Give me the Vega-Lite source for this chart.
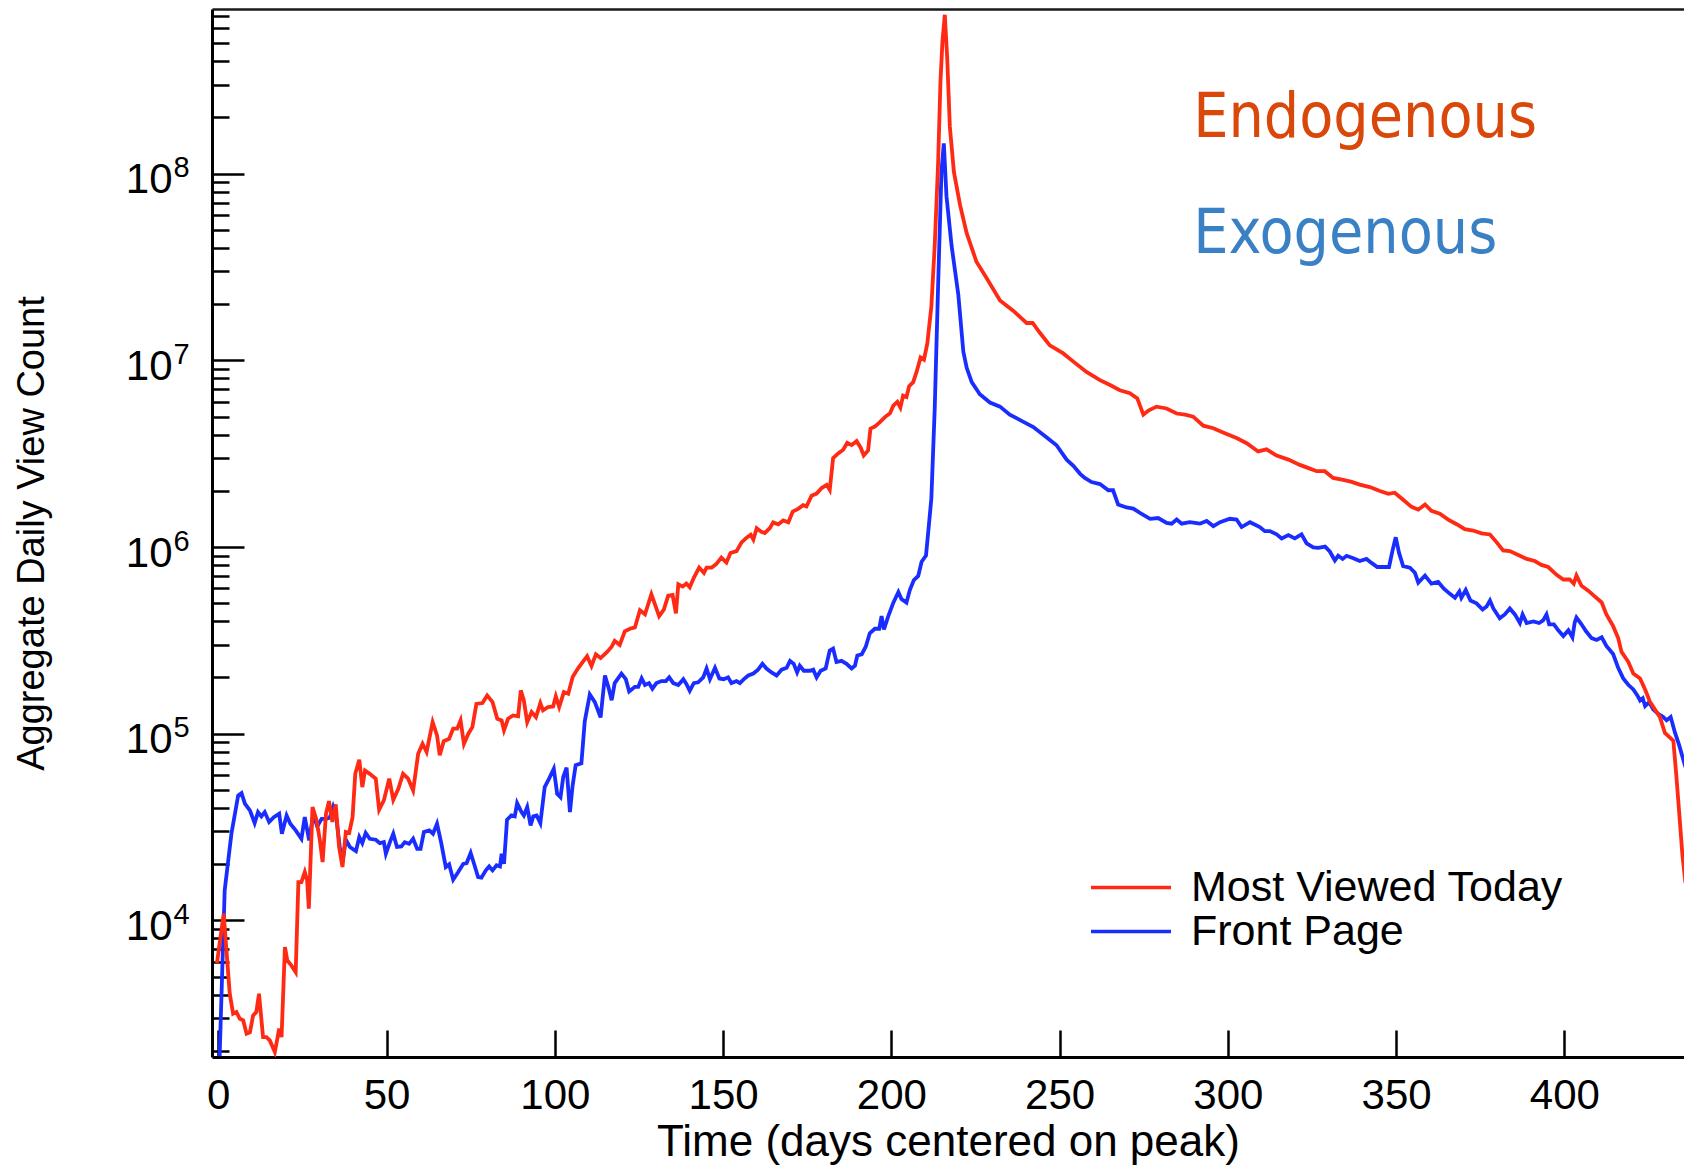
{
  "$schema": "https://vega.github.io/schema/vega-lite/v6.json",
  "width": 1472,
  "height": 1048,
  "autosize": "none",
  "padding": {"left": 212, "top": 9, "right": 0, "bottom": 108},
  "background": "white",
  "config": {
    "font": "Liberation Sans",
    "view": {"stroke": null},
    "axis": {"grid": false, "domainColor": "black", "tickColor": "black", "labelColor": "black", "titleColor": "black", "labelFont": "Liberation Sans", "titleFont": "Liberation Sans", "titleFontWeight": "normal"}
  },
  "datasets": {
    "views": [
      {"series":"Front Page","day":0.4,"views":1870},{"series":"Front Page","day":1.9,"views":14490},{"series":"Front Page","day":3.9,"views":29110},{"series":"Front Page","day":5.9,"views":46670},{"series":"Front Page","day":6.9,"views":48080},{"series":"Front Page","day":7.9,"views":42170},{"series":"Front Page","day":9.4,"views":38820},{"series":"Front Page","day":10.8,"views":33190},{"series":"Front Page","day":11.8,"views":38020},{"series":"Front Page","day":12.8,"views":36060},{"series":"Front Page","day":13.8,"views":38020},{"series":"Front Page","day":15.1,"views":33650},{"series":"Front Page","day":16.5,"views":35730},{"series":"Front Page","day":18.1,"views":37240},{"series":"Front Page","day":18.9,"views":29110},{"series":"Front Page","day":20.3,"views":36480},{"series":"Front Page","day":21.4,"views":32960},{"series":"Front Page","day":23.0,"views":30340},{"series":"Front Page","day":24.7,"views":27350},{"series":"Front Page","day":25.7,"views":35730},{"series":"Front Page","day":27.0,"views":26790},{"series":"Front Page","day":28.2,"views":36980},{"series":"Front Page","day":29.4,"views":31840},{"series":"Front Page","day":30.7,"views":34990},{"series":"Front Page","day":32.0,"views":34990},{"series":"Front Page","day":33.1,"views":35480},{"series":"Front Page","day":34.1,"views":40460},{"series":"Front Page","day":35.1,"views":34990},{"series":"Front Page","day":36.1,"views":24720},{"series":"Front Page","day":36.9,"views":20510},{"series":"Front Page","day":37.9,"views":27040},{"series":"Front Page","day":39.1,"views":24720},{"series":"Front Page","day":40.9,"views":23500},{"series":"Front Page","day":41.9,"views":27930},{"series":"Front Page","day":42.8,"views":25940},{"series":"Front Page","day":43.8,"views":29380},{"series":"Front Page","day":45.0,"views":27350},{"series":"Front Page","day":46.8,"views":27040},{"series":"Front Page","day":48.0,"views":25940},{"series":"Front Page","day":49.2,"views":26240},{"series":"Front Page","day":49.8,"views":22750},{"series":"Front Page","day":51.0,"views":26240},{"series":"Front Page","day":52.0,"views":29110},{"series":"Front Page","day":53.1,"views":24720},{"series":"Front Page","day":54.4,"views":24890},{"series":"Front Page","day":55.4,"views":26240},{"series":"Front Page","day":56.7,"views":25700},{"series":"Front Page","day":57.9,"views":27350},{"series":"Front Page","day":59.1,"views":24150},{"series":"Front Page","day":60.1,"views":24150},{"series":"Front Page","day":61.1,"views":29720},{"series":"Front Page","day":62.7,"views":30340},{"series":"Front Page","day":63.8,"views":29110},{"series":"Front Page","day":65.0,"views":32960},{"series":"Front Page","day":66.3,"views":25700},{"series":"Front Page","day":67.6,"views":19320},{"series":"Front Page","day":68.6,"views":19950},{"series":"Front Page","day":69.8,"views":16520},{"series":"Front Page","day":71.3,"views":18160},{"series":"Front Page","day":72.8,"views":20090},{"series":"Front Page","day":73.8,"views":20280},{"series":"Front Page","day":75.0,"views":22960},{"series":"Front Page","day":76.0,"views":20090},{"series":"Front Page","day":77.2,"views":17060},{"series":"Front Page","day":78.2,"views":16940},{"series":"Front Page","day":79.5,"views":18530},{"series":"Front Page","day":80.5,"views":19450},{"series":"Front Page","day":81.5,"views":18530},{"series":"Front Page","day":82.7,"views":19720},{"series":"Front Page","day":83.7,"views":19450},{"series":"Front Page","day":84.2,"views":22750},{"series":"Front Page","day":84.9,"views":20090},{"series":"Front Page","day":85.8,"views":34590},{"series":"Front Page","day":87.1,"views":36480},{"series":"Front Page","day":88.1,"views":36060},{"series":"Front Page","day":88.8,"views":42460},{"series":"Front Page","day":90.1,"views":38020},{"series":"Front Page","day":90.8,"views":36480},{"series":"Front Page","day":91.8,"views":40460},{"series":"Front Page","day":92.8,"views":32280},{"series":"Front Page","day":93.6,"views":36060},{"series":"Front Page","day":94.6,"views":36480},{"series":"Front Page","day":95.7,"views":33190},{"series":"Front Page","day":97.0,"views":51760},{"series":"Front Page","day":98.3,"views":57410},{"series":"Front Page","day":99.7,"views":64860},{"series":"Front Page","day":100.7,"views":47640},{"series":"Front Page","day":101.7,"views":45710},{"series":"Front Page","day":102.5,"views":58610},{"series":"Front Page","day":103.5,"views":65770},{"series":"Front Page","day":104.5,"views":38020},{"series":"Front Page","day":105.3,"views":52840},{"series":"Front Page","day":106.2,"views":67760},{"series":"Front Page","day":107.9,"views":69340},{"series":"Front Page","day":108.9,"views":116400},{"series":"Front Page","day":110.4,"views":162200},{"series":"Front Page","day":111.9,"views":147600},{"series":"Front Page","day":113.6,"views":122200},{"series":"Front Page","day":114.9,"views":205100},{"series":"Front Page","day":115.9,"views":178200},{"series":"Front Page","day":116.9,"views":151000},{"series":"Front Page","day":117.8,"views":186600},{"series":"Front Page","day":119.8,"views":209900},{"series":"Front Page","day":121.1,"views":195900},{"series":"Front Page","day":122.1,"views":168300},{"series":"Front Page","day":123.8,"views":178200},{"series":"Front Page","day":124.8,"views":178200},{"series":"Front Page","day":125.8,"views":197700},{"series":"Front Page","day":126.8,"views":182400},{"series":"Front Page","day":128.0,"views":186600},{"series":"Front Page","day":129.0,"views":174200},{"series":"Front Page","day":130.2,"views":186600},{"series":"Front Page","day":131.7,"views":191400},{"series":"Front Page","day":133.0,"views":191400},{"series":"Front Page","day":134.0,"views":200400},{"series":"Front Page","day":135.2,"views":186600},{"series":"Front Page","day":136.7,"views":182400},{"series":"Front Page","day":138.2,"views":195900},{"series":"Front Page","day":139.1,"views":184900},{"series":"Front Page","day":140.1,"views":169800},{"series":"Front Page","day":141.3,"views":186600},{"series":"Front Page","day":142.6,"views":188400},{"series":"Front Page","day":144.1,"views":200400},{"series":"Front Page","day":145.1,"views":223400},{"series":"Front Page","day":146.1,"views":195900},{"series":"Front Page","day":147.6,"views":225400},{"series":"Front Page","day":148.9,"views":197700},{"series":"Front Page","day":150.2,"views":195900},{"series":"Front Page","day":151.5,"views":200400},{"series":"Front Page","day":152.5,"views":186600},{"series":"Front Page","day":154.0,"views":191400},{"series":"Front Page","day":155.0,"views":186600},{"series":"Front Page","day":156.2,"views":195900},{"series":"Front Page","day":157.5,"views":205100},{"series":"Front Page","day":159.0,"views":209900},{"series":"Front Page","day":160.4,"views":220300},{"series":"Front Page","day":161.7,"views":236600},{"series":"Front Page","day":162.9,"views":223400},{"series":"Front Page","day":164.4,"views":212800},{"series":"Front Page","day":165.9,"views":205100},{"series":"Front Page","day":167.4,"views":220300},{"series":"Front Page","day":168.9,"views":225400},{"series":"Front Page","day":169.9,"views":245500},{"series":"Front Page","day":171.0,"views":236600},{"series":"Front Page","day":172.0,"views":212800},{"series":"Front Page","day":172.8,"views":231200},{"series":"Front Page","day":174.0,"views":217300},{"series":"Front Page","day":175.8,"views":217300},{"series":"Front Page","day":176.8,"views":220300},{"series":"Front Page","day":177.8,"views":200400},{"series":"Front Page","day":179.0,"views":217300},{"series":"Front Page","day":180.5,"views":223400},{"series":"Front Page","day":181.7,"views":279300},{"series":"Front Page","day":182.7,"views":285800},{"series":"Front Page","day":183.7,"views":242100},{"series":"Front Page","day":185.2,"views":245500},{"series":"Front Page","day":186.7,"views":236600},{"series":"Front Page","day":188.2,"views":223400},{"series":"Front Page","day":189.2,"views":231200},{"series":"Front Page","day":189.9,"views":262400},{"series":"Front Page","day":191.2,"views":266100},{"series":"Front Page","day":192.4,"views":292400},{"series":"Front Page","day":193.6,"views":345100},{"series":"Front Page","day":195.1,"views":364800},{"series":"Front Page","day":196.4,"views":364800},{"series":"Front Page","day":197.1,"views":426600},{"series":"Front Page","day":197.8,"views":361400},{"series":"Front Page","day":199.1,"views":426600},{"series":"Front Page","day":200.6,"views":503500},{"series":"Front Page","day":202.1,"views":574100},{"series":"Front Page","day":203.0,"views":527200},{"series":"Front Page","day":204.5,"views":503500},{"series":"Front Page","day":205.5,"views":587500},{"series":"Front Page","day":206.7,"views":665300},{"series":"Front Page","day":208.0,"views":699800},{"series":"Front Page","day":209.0,"views":833700},{"series":"Front Page","day":210.3,"views":899500},{"series":"Front Page","day":211.0,"views":1219000},{"series":"Front Page","day":211.9,"views":1820000},{"series":"Front Page","day":212.9,"views":5508000},{"series":"Front Page","day":213.9,"views":24950000},{"series":"Front Page","day":214.9,"views":102100000},{"series":"Front Page","day":215.6,"views":145200000},{"series":"Front Page","day":216.4,"views":75510000},{"series":"Front Page","day":217.9,"views":41300000},{"series":"Front Page","day":219.9,"views":22540000},{"series":"Front Page","day":221.4,"views":11140000},{"series":"Front Page","day":222.4,"views":9120000},{"series":"Front Page","day":223.9,"views":7638000},{"series":"Front Page","day":226.3,"views":6577000},{"series":"Front Page","day":229.3,"views":5943000},{"series":"Front Page","day":232.3,"views":5649000},{"series":"Front Page","day":235.2,"views":5117000},{"series":"Front Page","day":238.7,"views":4742000},{"series":"Front Page","day":242.2,"views":4395000},{"series":"Front Page","day":246.1,"views":3873000},{"series":"Front Page","day":249.1,"views":3508000},{"series":"Front Page","day":252.1,"views":2938000},{"series":"Front Page","day":254.1,"views":2723000},{"series":"Front Page","day":256.1,"views":2466000},{"series":"Front Page","day":257.5,"views":2344000},{"series":"Front Page","day":259.5,"views":2228000},{"series":"Front Page","day":262.0,"views":2173000},{"series":"Front Page","day":264.5,"views":2014000},{"series":"Front Page","day":265.9,"views":2014000},{"series":"Front Page","day":267.4,"views":1690000},{"series":"Front Page","day":269.9,"views":1629000},{"series":"Front Page","day":271.9,"views":1607000},{"series":"Front Page","day":274.4,"views":1503000},{"series":"Front Page","day":276.9,"views":1416000},{"series":"Front Page","day":279.3,"views":1429000},{"series":"Front Page","day":281.8,"views":1346000},{"series":"Front Page","day":283.3,"views":1334000},{"series":"Front Page","day":284.8,"views":1403000},{"series":"Front Page","day":286.3,"views":1334000},{"series":"Front Page","day":288.7,"views":1358000},{"series":"Front Page","day":291.7,"views":1334000},{"series":"Front Page","day":293.7,"views":1380000},{"series":"Front Page","day":295.7,"views":1294000},{"series":"Front Page","day":297.7,"views":1358000},{"series":"Front Page","day":300.6,"views":1416000},{"series":"Front Page","day":302.6,"views":1403000},{"series":"Front Page","day":304.1,"views":1279000},{"series":"Front Page","day":306.6,"views":1358000},{"series":"Front Page","day":309.5,"views":1279000},{"series":"Front Page","day":311.0,"views":1216000},{"series":"Front Page","day":312.5,"views":1216000},{"series":"Front Page","day":314.5,"views":1169000},{"series":"Front Page","day":316.0,"views":1112000},{"series":"Front Page","day":318.0,"views":1159000},{"series":"Front Page","day":319.9,"views":1112000},{"series":"Front Page","day":321.9,"views":1169000},{"series":"Front Page","day":323.4,"views":1047000},{"series":"Front Page","day":325.4,"views":995400},{"series":"Front Page","day":326.9,"views":988600},{"series":"Front Page","day":328.9,"views":1005000},{"series":"Front Page","day":330.3,"views":946200},{"series":"Front Page","day":331.8,"views":847200},{"series":"Front Page","day":332.8,"views":897500},{"series":"Front Page","day":334.1,"views":863000},{"series":"Front Page","day":335.3,"views":897500},{"series":"Front Page","day":337.3,"views":871000},{"series":"Front Page","day":339.2,"views":841400},{"series":"Front Page","day":341.2,"views":863000},{"series":"Front Page","day":342.7,"views":822200},{"series":"Front Page","day":344.4,"views":781600},{"series":"Front Page","day":346.2,"views":781600},{"series":"Front Page","day":347.9,"views":781600},{"series":"Front Page","day":348.9,"views":950600},{"series":"Front Page","day":349.9,"views":1127000},{"series":"Front Page","day":350.9,"views":926800},{"series":"Front Page","day":352.1,"views":790700},{"series":"Front Page","day":354.1,"views":774500},{"series":"Front Page","day":355.6,"views":727800},{"series":"Front Page","day":356.6,"views":644200},{"series":"Front Page","day":358.6,"views":703100},{"series":"Front Page","day":360.5,"views":636800},{"series":"Front Page","day":362.5,"views":650100},{"series":"Front Page","day":364.2,"views":598400},{"series":"Front Page","day":366.0,"views":561000},{"series":"Front Page","day":367.5,"views":534600},{"series":"Front Page","day":368.8,"views":578100},{"series":"Front Page","day":369.4,"views":534600},{"series":"Front Page","day":370.7,"views":588800},{"series":"Front Page","day":372.1,"views":516400},{"series":"Front Page","day":373.9,"views":498900},{"series":"Front Page","day":375.7,"views":462400},{"series":"Front Page","day":376.9,"views":480800},{"series":"Front Page","day":377.9,"views":516400},{"series":"Front Page","day":378.9,"views":468800},{"series":"Front Page","day":380.8,"views":415000},{"series":"Front Page","day":382.3,"views":435500},{"series":"Front Page","day":383.8,"views":468800},{"series":"Front Page","day":385.3,"views":435500},{"series":"Front Page","day":386.8,"views":391700},{"series":"Front Page","day":387.6,"views":435500},{"series":"Front Page","day":388.8,"views":391700},{"series":"Front Page","day":390.8,"views":399000},{"series":"Front Page","day":392.5,"views":391700},{"series":"Front Page","day":393.7,"views":404600},{"series":"Front Page","day":394.7,"views":435500},{"series":"Front Page","day":395.5,"views":385500},{"series":"Front Page","day":396.9,"views":385500},{"series":"Front Page","day":398.2,"views":358100},{"series":"Front Page","day":399.7,"views":333400},{"series":"Front Page","day":401.2,"views":358100},{"series":"Front Page","day":402.4,"views":328100},{"series":"Front Page","day":403.1,"views":395400},{"series":"Front Page","day":403.6,"views":418800},{"series":"Front Page","day":405.1,"views":385500},{"series":"Front Page","day":406.4,"views":354800},{"series":"Front Page","day":408.1,"views":325100},{"series":"Front Page","day":409.6,"views":317700},{"series":"Front Page","day":411.1,"views":328100},{"series":"Front Page","day":412.5,"views":295100},{"series":"Front Page","day":414.5,"views":267300},{"series":"Front Page","day":416.0,"views":225400},{"series":"Front Page","day":417.5,"views":197700},{"series":"Front Page","day":419.0,"views":182800},{"series":"Front Page","day":420.5,"views":172600},{"series":"Front Page","day":421.7,"views":160300},{"series":"Front Page","day":422.5,"views":150700},{"series":"Front Page","day":423.3,"views":154900},{"series":"Front Page","day":424.0,"views":140600},{"series":"Front Page","day":425.2,"views":147600},{"series":"Front Page","day":426.4,"views":135200},{"series":"Front Page","day":427.9,"views":127600},{"series":"Front Page","day":429.4,"views":122700},{"series":"Front Page","day":430.4,"views":118000},{"series":"Front Page","day":431.6,"views":122700},{"series":"Front Page","day":432.9,"views":100900},{"series":"Front Page","day":434.1,"views":87100},{"series":"Front Page","day":435.1,"views":75340},{"series":"Front Page","day":436.0,"views":66070},
      {"series":"Most Viewed Today","day":-0.4,"views":5890},{"series":"Most Viewed Today","day":1.6,"views":10860},{"series":"Most Viewed Today","day":3.4,"views":4050},{"series":"Most Viewed Today","day":4.4,"views":3162},{"series":"Most Viewed Today","day":5.4,"views":3228},{"series":"Most Viewed Today","day":6.4,"views":2972},{"series":"Most Viewed Today","day":7.4,"views":2911},{"series":"Most Viewed Today","day":8.4,"views":2472},{"series":"Most Viewed Today","day":9.4,"views":2512},{"series":"Most Viewed Today","day":10.35,"views":3097},{"series":"Most Viewed Today","day":11.3,"views":3228},{"series":"Most Viewed Today","day":12.1,"views":4046},{"series":"Most Viewed Today","day":13.3,"views":2371},{"series":"Most Viewed Today","day":14.3,"views":2371},{"series":"Most Viewed Today","day":15.3,"views":2275},{"series":"Most Viewed Today","day":16.8,"views":1972},{"series":"Most Viewed Today","day":18.1,"views":2630},{"series":"Most Viewed Today","day":18.8,"views":2371},{"series":"Most Viewed Today","day":19.8,"views":7194},{"series":"Most Viewed Today","day":20.5,"views":6109},{"series":"Most Viewed Today","day":21.7,"views":5741},{"series":"Most Viewed Today","day":23.0,"views":5284},{"series":"Most Viewed Today","day":23.8,"views":16030},{"series":"Most Viewed Today","day":24.7,"views":16030},{"series":"Most Viewed Today","day":25.7,"views":18160},{"series":"Most Viewed Today","day":26.4,"views":16370},{"series":"Most Viewed Today","day":26.9,"views":11560},{"series":"Most Viewed Today","day":28.0,"views":40460},{"series":"Most Viewed Today","day":29.2,"views":34360},{"series":"Most Viewed Today","day":30.2,"views":26790},{"series":"Most Viewed Today","day":31.0,"views":20510},{"series":"Most Viewed Today","day":32.0,"views":37240},{"series":"Most Viewed Today","day":32.9,"views":43550},{"series":"Most Viewed Today","day":33.9,"views":33650},{"series":"Most Viewed Today","day":34.9,"views":41780},{"series":"Most Viewed Today","day":35.9,"views":24720},{"series":"Most Viewed Today","day":36.9,"views":19320},{"series":"Most Viewed Today","day":37.9,"views":29720},{"series":"Most Viewed Today","day":38.9,"views":29380},{"series":"Most Viewed Today","day":39.9,"views":35730},{"series":"Most Viewed Today","day":40.7,"views":60950},{"series":"Most Viewed Today","day":41.9,"views":72440},{"series":"Most Viewed Today","day":42.8,"views":51760},{"series":"Most Viewed Today","day":43.6,"views":63530},{"series":"Most Viewed Today","day":45.0,"views":60950},{"series":"Most Viewed Today","day":46.8,"views":57410},{"series":"Most Viewed Today","day":47.8,"views":39170},{"series":"Most Viewed Today","day":49.2,"views":43950},{"series":"Most Viewed Today","day":50.8,"views":57410},{"series":"Most Viewed Today","day":52.0,"views":44260},{"series":"Most Viewed Today","day":53.5,"views":50700},{"series":"Most Viewed Today","day":54.9,"views":60950},{"series":"Most Viewed Today","day":56.4,"views":57410},{"series":"Most Viewed Today","day":57.9,"views":49660},{"series":"Most Viewed Today","day":59.4,"views":77980},{"series":"Most Viewed Today","day":60.7,"views":88310},{"series":"Most Viewed Today","day":61.9,"views":79800},{"series":"Most Viewed Today","day":63.7,"views":115300},{"series":"Most Viewed Today","day":65.0,"views":97950},{"series":"Most Viewed Today","day":65.8,"views":76560},{"series":"Most Viewed Today","day":67.0,"views":91200},{"series":"Most Viewed Today","day":68.6,"views":93970},{"series":"Most Viewed Today","day":69.8,"views":106400},{"series":"Most Viewed Today","day":71.0,"views":106400},{"series":"Most Viewed Today","day":72.0,"views":117800},{"series":"Most Viewed Today","day":73.0,"views":88310},{"series":"Most Viewed Today","day":74.3,"views":100000},{"series":"Most Viewed Today","day":75.5,"views":108400},{"series":"Most Viewed Today","day":76.7,"views":144500},{"series":"Most Viewed Today","day":78.5,"views":145900},{"series":"Most Viewed Today","day":79.9,"views":160300},{"series":"Most Viewed Today","day":81.5,"views":147600},{"series":"Most Viewed Today","day":82.9,"views":120200},{"series":"Most Viewed Today","day":84.2,"views":117800},{"series":"Most Viewed Today","day":84.9,"views":104200},{"series":"Most Viewed Today","day":86.1,"views":120200},{"series":"Most Viewed Today","day":87.6,"views":125300},{"series":"Most Viewed Today","day":89.1,"views":123900},{"series":"Most Viewed Today","day":89.9,"views":170600},{"series":"Most Viewed Today","day":90.8,"views":150700},{"series":"Most Viewed Today","day":91.8,"views":115300},{"series":"Most Viewed Today","day":93.1,"views":130600},{"series":"Most Viewed Today","day":94.4,"views":122700},{"series":"Most Viewed Today","day":95.7,"views":145900},{"series":"Most Viewed Today","day":96.5,"views":133400},{"series":"Most Viewed Today","day":98.0,"views":139000},{"series":"Most Viewed Today","day":99.5,"views":140000},{"series":"Most Viewed Today","day":100.3,"views":158500},{"series":"Most Viewed Today","day":101.3,"views":139000},{"series":"Most Viewed Today","day":102.7,"views":167100},{"series":"Most Viewed Today","day":104.0,"views":163700},{"series":"Most Viewed Today","day":105.3,"views":200900},{"series":"Most Viewed Today","day":107.0,"views":225400},{"series":"Most Viewed Today","day":109.6,"views":260000},{"series":"Most Viewed Today","day":110.9,"views":230700},{"series":"Most Viewed Today","day":112.2,"views":266100},{"series":"Most Viewed Today","day":113.6,"views":254100},{"series":"Most Viewed Today","day":115.4,"views":272300},{"series":"Most Viewed Today","day":116.9,"views":292400},{"series":"Most Viewed Today","day":117.8,"views":314100},{"series":"Most Viewed Today","day":119.3,"views":299200},{"series":"Most Viewed Today","day":120.8,"views":353200},{"series":"Most Viewed Today","day":122.3,"views":364800},{"series":"Most Viewed Today","day":123.8,"views":370700},{"series":"Most Viewed Today","day":125.3,"views":458100},{"series":"Most Viewed Today","day":126.8,"views":436500},{"series":"Most Viewed Today","day":128.7,"views":558500},{"series":"Most Viewed Today","day":130.0,"views":479700},{"series":"Most Viewed Today","day":131.0,"views":426600},{"series":"Most Viewed Today","day":132.4,"views":462400},{"series":"Most Viewed Today","day":133.7,"views":548300},{"series":"Most Viewed Today","day":135.0,"views":553400},{"series":"Most Viewed Today","day":136.0,"views":440600},{"series":"Most Viewed Today","day":136.7,"views":631000},{"series":"Most Viewed Today","day":138.0,"views":613800},{"series":"Most Viewed Today","day":139.1,"views":636800},{"series":"Most Viewed Today","day":140.1,"views":608100},{"series":"Most Viewed Today","day":141.3,"views":683900},{"series":"Most Viewed Today","day":142.9,"views":776200},{"series":"Most Viewed Today","day":144.3,"views":726100},{"series":"Most Viewed Today","day":145.1,"views":776200},{"series":"Most Viewed Today","day":146.6,"views":776200},{"series":"Most Viewed Today","day":147.9,"views":807200},{"series":"Most Viewed Today","day":149.5,"views":877000},{"series":"Most Viewed Today","day":151.0,"views":826000},{"series":"Most Viewed Today","day":152.2,"views":929000},{"series":"Most Viewed Today","day":154.0,"views":950600},{"series":"Most Viewed Today","day":155.5,"views":1059000},{"series":"Most Viewed Today","day":157.0,"views":1122000},{"series":"Most Viewed Today","day":158.2,"views":1164000},{"series":"Most Viewed Today","day":159.0,"views":1096000},{"series":"Most Viewed Today","day":160.0,"views":1262000},{"series":"Most Viewed Today","day":161.4,"views":1205000},{"series":"Most Viewed Today","day":162.4,"views":1189000},{"series":"Most Viewed Today","day":163.9,"views":1262000},{"series":"Most Viewed Today","day":164.9,"views":1355000},{"series":"Most Viewed Today","day":166.4,"views":1324000},{"series":"Most Viewed Today","day":167.9,"views":1387000},{"series":"Most Viewed Today","day":169.4,"views":1355000},{"series":"Most Viewed Today","day":170.7,"views":1549000},{"series":"Most Viewed Today","day":172.3,"views":1600000},{"series":"Most Viewed Today","day":173.8,"views":1675000},{"series":"Most Viewed Today","day":174.8,"views":1652000},{"series":"Most Viewed Today","day":176.3,"views":1884000},{"series":"Most Viewed Today","day":177.8,"views":1932000},{"series":"Most Viewed Today","day":179.3,"views":2070000},{"series":"Most Viewed Today","day":180.8,"views":2153000},{"series":"Most Viewed Today","day":181.7,"views":2023000},{"series":"Most Viewed Today","day":182.7,"views":2992000},{"series":"Most Viewed Today","day":184.2,"views":3170000},{"series":"Most Viewed Today","day":185.7,"views":3319000},{"series":"Most Viewed Today","day":186.9,"views":3614000},{"series":"Most Viewed Today","day":188.2,"views":3516000},{"series":"Most Viewed Today","day":189.7,"views":3690000},{"series":"Most Viewed Today","day":190.9,"views":3404000},{"series":"Most Viewed Today","day":191.8,"views":3097000},{"series":"Most Viewed Today","day":193.1,"views":3289000},{"series":"Most Viewed Today","day":193.8,"views":4305000},{"series":"Most Viewed Today","day":195.1,"views":4416000},{"series":"Most Viewed Today","day":196.6,"views":4667000},{"series":"Most Viewed Today","day":198.1,"views":4966000},{"series":"Most Viewed Today","day":199.6,"views":5200000},{"series":"Most Viewed Today","day":200.6,"views":5715000},{"series":"Most Viewed Today","day":201.8,"views":5998000},{"series":"Most Viewed Today","day":202.7,"views":5585000},{"series":"Most Viewed Today","day":203.5,"views":6471000},{"series":"Most Viewed Today","day":204.5,"views":6368000},{"series":"Most Viewed Today","day":205.3,"views":7261000},{"series":"Most Viewed Today","day":206.5,"views":7638000},{"series":"Most Viewed Today","day":207.5,"views":8670000},{"series":"Most Viewed Today","day":208.7,"views":10350000},{"series":"Most Viewed Today","day":209.7,"views":10090000},{"series":"Most Viewed Today","day":210.7,"views":12330000},{"series":"Most Viewed Today","day":211.9,"views":19410000},{"series":"Most Viewed Today","day":212.9,"views":41300000},{"series":"Most Viewed Today","day":213.9,"views":113000000},{"series":"Most Viewed Today","day":214.6,"views":309000000},{"series":"Most Viewed Today","day":215.2,"views":512000000},{"series":"Most Viewed Today","day":215.9,"views":710000000},{"series":"Most Viewed Today","day":216.6,"views":419000000},{"series":"Most Viewed Today","day":217.4,"views":178000000},{"series":"Most Viewed Today","day":218.6,"views":102100000},{"series":"Most Viewed Today","day":220.4,"views":68230000},{"series":"Most Viewed Today","day":222.4,"views":47970000},{"series":"Most Viewed Today","day":225.3,"views":33730000},{"series":"Most Viewed Today","day":228.3,"views":27610000},{"series":"Most Viewed Today","day":232.3,"views":20940000},{"series":"Most Viewed Today","day":236.2,"views":18450000},{"series":"Most Viewed Today","day":240.2,"views":15850000},{"series":"Most Viewed Today","day":242.0,"views":15850000},{"series":"Most Viewed Today","day":244.2,"views":14000000},{"series":"Most Viewed Today","day":247.1,"views":12020000},{"series":"Most Viewed Today","day":251.1,"views":10890000},{"series":"Most Viewed Today","day":254.1,"views":9840000},{"series":"Most Viewed Today","day":258.0,"views":8670000},{"series":"Most Viewed Today","day":262.0,"views":7834000},{"series":"Most Viewed Today","day":265.0,"views":7379000},{"series":"Most Viewed Today","day":267.9,"views":6918000},{"series":"Most Viewed Today","day":270.9,"views":6668000},{"series":"Most Viewed Today","day":273.1,"views":6252000},{"series":"Most Viewed Today","day":274.9,"views":5117000},{"series":"Most Viewed Today","day":276.4,"views":5383000},{"series":"Most Viewed Today","day":278.8,"views":5649000},{"series":"Most Viewed Today","day":281.8,"views":5521000},{"series":"Most Viewed Today","day":284.8,"views":5188000},{"series":"Most Viewed Today","day":287.3,"views":5117000},{"series":"Most Viewed Today","day":289.7,"views":4989000},{"series":"Most Viewed Today","day":292.7,"views":4467000},{"series":"Most Viewed Today","day":295.7,"views":4325000},{"series":"Most Viewed Today","day":299.1,"views":4074000},{"series":"Most Viewed Today","day":302.6,"views":3837000},{"series":"Most Viewed Today","day":305.6,"views":3597000},{"series":"Most Viewed Today","day":309.0,"views":3251000},{"series":"Most Viewed Today","day":311.5,"views":3334000},{"series":"Most Viewed Today","day":314.5,"views":3090000},{"series":"Most Viewed Today","day":318.0,"views":2938000},{"series":"Most Viewed Today","day":321.4,"views":2754000},{"series":"Most Viewed Today","day":324.4,"views":2630000},{"series":"Most Viewed Today","day":326.4,"views":2547000},{"series":"Most Viewed Today","day":328.8,"views":2547000},{"series":"Most Viewed Today","day":331.3,"views":2344000},{"series":"Most Viewed Today","day":334.3,"views":2286000},{"series":"Most Viewed Today","day":336.8,"views":2234000},{"series":"Most Viewed Today","day":339.2,"views":2158000},{"series":"Most Viewed Today","day":342.2,"views":2094000},{"series":"Most Viewed Today","day":345.2,"views":1995000},{"series":"Most Viewed Today","day":347.7,"views":1928000},{"series":"Most Viewed Today","day":349.6,"views":1954000},{"series":"Most Viewed Today","day":352.1,"views":1791000},{"series":"Most Viewed Today","day":354.6,"views":1641000},{"series":"Most Viewed Today","day":356.6,"views":1585000},{"series":"Most Viewed Today","day":358.6,"views":1690000},{"series":"Most Viewed Today","day":360.5,"views":1563000},{"series":"Most Viewed Today","day":363.0,"views":1510000},{"series":"Most Viewed Today","day":365.5,"views":1403000},{"series":"Most Viewed Today","day":368.0,"views":1324000},{"series":"Most Viewed Today","day":370.4,"views":1245000},{"series":"Most Viewed Today","day":372.9,"views":1225000},{"series":"Most Viewed Today","day":375.4,"views":1183000},{"series":"Most Viewed Today","day":377.9,"views":1167000},{"series":"Most Viewed Today","day":379.9,"views":1059000},{"series":"Most Viewed Today","day":381.8,"views":959400},{"series":"Most Viewed Today","day":383.8,"views":950600},{"series":"Most Viewed Today","day":386.3,"views":905700},{"series":"Most Viewed Today","day":388.8,"views":863000},{"series":"Most Viewed Today","day":391.2,"views":841400},{"series":"Most Viewed Today","day":393.2,"views":801700},{"series":"Most Viewed Today","day":395.2,"views":781600},{"series":"Most Viewed Today","day":397.7,"views":709600},{"series":"Most Viewed Today","day":399.7,"views":669900},{"series":"Most Viewed Today","day":401.6,"views":669900},{"series":"Most Viewed Today","day":402.8,"views":636800},{"series":"Most Viewed Today","day":403.6,"views":703100},{"series":"Most Viewed Today","day":405.1,"views":619400},{"series":"Most Viewed Today","day":407.1,"views":583400},{"series":"Most Viewed Today","day":409.1,"views":542000},{"series":"Most Viewed Today","day":411.1,"views":504700},{"series":"Most Viewed Today","day":412.5,"views":435500},{"series":"Most Viewed Today","day":414.5,"views":376700},{"series":"Most Viewed Today","day":416.0,"views":325100},{"series":"Most Viewed Today","day":417.0,"views":274200},{"series":"Most Viewed Today","day":419.0,"views":242700},{"series":"Most Viewed Today","day":420.5,"views":209900},{"series":"Most Viewed Today","day":422.5,"views":197700},{"series":"Most Viewed Today","day":424.0,"views":172600},{"series":"Most Viewed Today","day":425.4,"views":148900},{"series":"Most Viewed Today","day":426.9,"views":135200},{"series":"Most Viewed Today","day":428.4,"views":122700},{"series":"Most Viewed Today","day":429.9,"views":100900},{"series":"Most Viewed Today","day":431.4,"views":95280},{"series":"Most Viewed Today","day":432.4,"views":91620},{"series":"Most Viewed Today","day":433.3,"views":59020},{"series":"Most Viewed Today","day":434.3,"views":34510},{"series":"Most Viewed Today","day":435.1,"views":22230},{"series":"Most Viewed Today","day":436.0,"views":15850}
    ]
  },
  "layer": [
    {
      "data": {"name": "views"},
      "mark": {"type": "line", "strokeWidth": 3.8, "clip": true},
      "encoding": {
        "x": {"field": "day", "type": "quantitative",
          "scale": {"domain": [-1.87, 435.56], "nice": false, "zero": false},
          "axis": {"orient": "bottom", "values": [0,50,100,150,200,250,300,350,400], "labelFontSize": 42, "labelPadding": 45, "tickSize": -27, "tickWidth": 2.5, "domainWidth": 3, "labelFlush": false, "labelOverlap": false, "title": "Time (days centered on peak)", "titleFontSize": 44, "titleY": 98, "titleBaseline": "alphabetic"}},
        "y": {"field": "views", "type": "quantitative",
          "scale": {"type": "log", "domain": [1854, 762000000], "nice": false},
          "axis": {"orient": "left", "values": [10000,100000,1000000,10000000,100000000], "labelExpr": "'10'", "labelFontSize": 42, "labelPadding": 72, "labelOffset": 6, "labelBaseline": "middle", "tickSize": -32, "tickWidth": 2.5, "domainWidth": 3, "labelFlush": false, "labelOverlap": false, "title": "Aggregate Daily View Count", "titleFontSize": 38, "titleAngle": -90, "titleX": -169, "titleY": 524, "titleAlign": "center", "titleBaseline": "alphabetic"}},
        "color": {"field": "series", "type": "nominal",
          "scale": {"domain": ["Most Viewed Today", "Front Page"], "range": ["#FF2A14", "#1A2DFF"]},
          "legend": {"title": null, "orient": "none", "legendX": 877, "legendY": 860, "padding": 0, "symbolType": "stroke", "symbolSize": 6400, "symbolStrokeWidth": 3.5, "labelFontSize": 43, "labelFont": "Liberation Sans", "labelColor": "black", "labelOffset": 18, "labelLimit": 0, "clipHeight": 37, "rowPadding": 0, "labelBaseline": "middle"}}
      }
    },
    {
      "data": {"name": "views"},
      "mark": {"type": "line", "opacity": 0},
      "encoding": {
        "x": {"field": "day", "type": "quantitative",
          "scale": {"domain": [-1.87, 435.56], "nice": false, "zero": false},
          "axis": {"orient": "top", "labels": false, "ticks": false, "domain": true, "domainWidth": 2.5, "domainColor": "#1a1a1a", "title": null}},
        "y": {"field": "views", "type": "quantitative",
          "scale": {"type": "log", "domain": [1854, 762000000], "nice": false},
          "axis": {"orient": "left", "values": [2000,3000,4000,5000,6000,7000,8000,9000,20000,30000,40000,50000,60000,70000,80000,90000,200000,300000,400000,500000,600000,700000,800000,900000,2000000,3000000,4000000,5000000,6000000,7000000,8000000,9000000,20000000,30000000,40000000,50000000,60000000,70000000,80000000,90000000,200000000,300000000,400000000,500000000,600000000,700000000], "labels": false, "domain": false, "tickSize": -17, "tickWidth": 2.5, "title": null}},
        "detail": {"field": "series"}
      }
    },
    {
      "data": {"name": "views"},
      "mark": {"type": "line", "opacity": 0},
      "encoding": {
        "x": {"field": "day", "type": "quantitative",
          "scale": {"domain": [-1.87, 435.56], "nice": false, "zero": false}, "axis": null},
        "y": {"field": "views", "type": "quantitative",
          "scale": {"type": "log", "domain": [1854, 762000000], "nice": false},
          "axis": {"orient": "left", "values": [10000,100000,1000000,10000000,100000000], "labelExpr": "'' + round(log(datum.value)/LN10)", "labelFontSize": 29, "labelAlign": "left", "labelBaseline": "middle", "labelPadding": 39, "labelOffset": -6, "labelFlush": false, "labelOverlap": false, "ticks": false, "domain": false, "title": null}},
        "detail": {"field": "series"}
      }
    },
    {
      "data": {"values": [{}]},
      "mark": {"type": "text", "text": "Endogenous", "align": "left", "baseline": "alphabetic", "font": "DejaVu Sans Condensed", "fontSize": 62, "color": "#D9480A"},
      "encoding": {
        "x": {"datum": 289.7, "type": "quantitative", "scale": {"domain": [-1.87, 435.56], "nice": false, "zero": false}, "axis": null},
        "y": {"datum": 156900000, "type": "quantitative", "scale": {"type": "log", "domain": [1854, 762000000], "nice": false}, "axis": null}
      }
    },
    {
      "data": {"values": [{}]},
      "mark": {"type": "text", "text": "Exogenous", "align": "left", "baseline": "alphabetic", "font": "DejaVu Sans Condensed", "fontSize": 62, "color": "#3A80C4"},
      "encoding": {
        "x": {"datum": 289.7, "type": "quantitative", "scale": {"domain": [-1.87, 435.56], "nice": false, "zero": false}, "axis": null},
        "y": {"datum": 37500000, "type": "quantitative", "scale": {"type": "log", "domain": [1854, 762000000], "nice": false}, "axis": null}
      }
    }
  ],
  "resolve": {"axis": {"x": "independent", "y": "independent"}}
}
